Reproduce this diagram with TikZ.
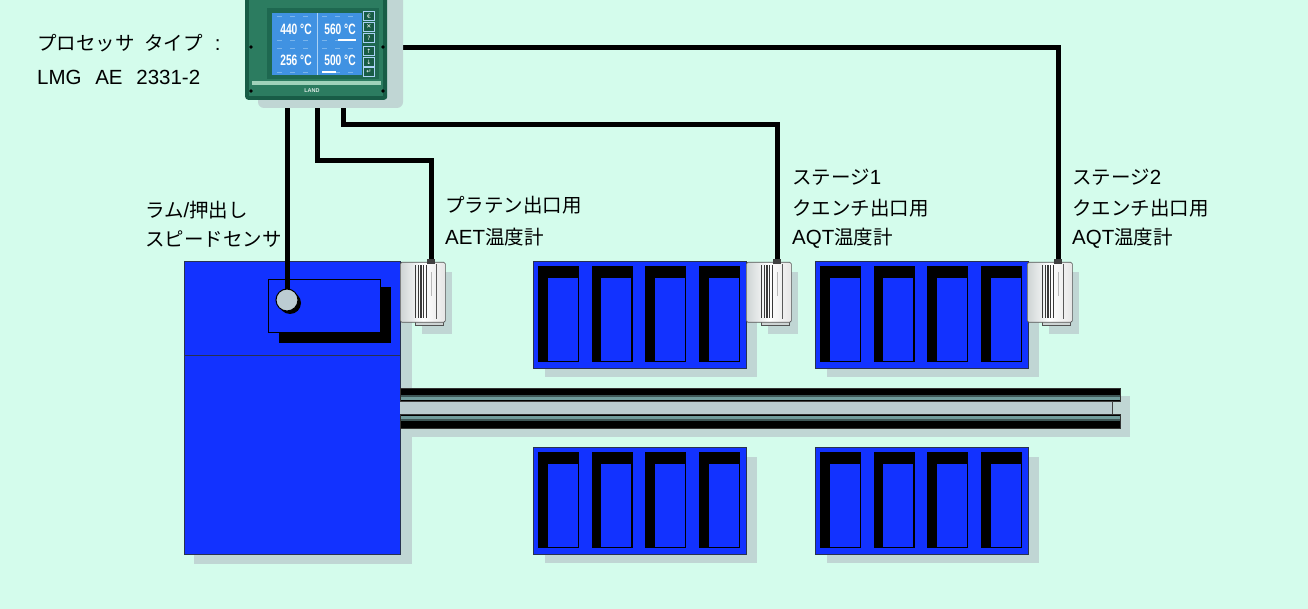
\documentclass[tikz,border=0pt]{standalone}
\usepackage{fontspec}
\setmainfont{Noto Sans CJK JP}
\newfontfamily\labfont{Liberation Sans}
\newfontfamily\symfont{DejaVu Sans}
\usetikzlibrary{calc}

\definecolor{bgmint}{RGB}{212,252,236}
\definecolor{pressblue}{RGB}{18,50,255}
\definecolor{shadowgrey}{RGB}{192,214,212}
\definecolor{edgedark}{RGB}{40,50,80}
\definecolor{ctrldark}{RGB}{24,92,70}
\definecolor{ctrlmid}{RGB}{44,124,96}
\definecolor{ctrlbezel}{RGB}{30,104,80}
\definecolor{screenblue}{RGB}{64,146,226}
\definecolor{screenline}{RGB}{170,210,245}
\definecolor{stripegreen}{RGB}{160,210,186}
\definecolor{railteal}{RGB}{112,156,156}
\definecolor{railgrey}{RGB}{186,204,208}
\definecolor{knobgrey}{RGB}{188,204,210}
\definecolor{sensorgrey}{RGB}{206,212,212}

% Latin runs inside the Japanese labels
\newcommand\lat[1]{{\labfont\fontsize{20.5}{22}\selectfont #1}}

\tikzset{
  cable/.style={line width=5pt, black, line join=miter},
  pressbox/.style={fill=pressblue, draw=edgedark, line width=0.8pt, inner sep=0pt, anchor=north west},
  lbl/.style={anchor=west, inner sep=0pt, text=black, font=\fontsize{19.5}{22}\selectfont},
  readout/.style={inner sep=0pt, text=white, font=\labfont\bfseries\fontsize{15}{15}\selectfont},
  keycap/.style={fill=ctrldark, draw=screenline, line width=0.4pt, minimum width=11pt, minimum height=9pt, inner sep=0pt, text=white, font=\symfont\fontsize{6}{6}\selectfont},
  sensorbody/.style={draw=gray!65!black, line width=0.6pt, rounded corners=1.5pt, left color=sensorgrey, right color=gray!20, middle color=white, minimum width=45pt, minimum height=60pt, inner sep=0pt, anchor=north west},
}

% quench table: name, left x, top y
\newcommand\quenchbox[3]{%
  \fill[shadowgrey] (#2+12,#3+10) rectangle (#2+224,#3+116);
  \node[pressbox, minimum width=213pt, minimum height=107pt] (#1) at (#2,#3) {};
  \foreach \k in {0,...,3}{%
    \fill[black] (#2+5+53.6*\k,#3+5) rectangle ++(41,96);
    \draw[fill=pressblue, draw=black, line width=0.6pt] (#2+14+53.6*\k,#3+16) rectangle ++(31,84);
  }%
}

% pyrometer head: name, left x, top y
\newcommand\tempsensor[3]{%
  \fill[shadowgrey] (#2+22,#3+10) rectangle (#2+52,#3+72);
  \draw[fill=sensorgrey, draw=gray!65!black, line width=0.6pt] (#2+15,#3+54) rectangle (#2+43,#3+63);
  \node[sensorbody] (#1) at (#2,#3) {};
  \foreach \s in {0,...,4}{\fill[gray!45!black] (#2+15+2.7*\s,#3+3) rectangle ++(1.3,53);}
  \draw[gray!55, line width=0.8pt] (#2+31,#3+10) -- (#2+31,#3+34);
  \draw[gray!70!black, line width=0.5pt] (#2+36,#3+2) -- (#2+36,#3+57);
}

\begin{document}
\begin{tikzpicture}[x=1pt,y=-1pt]
\useasboundingbox (0,0) rectangle (1308,609);
\clip (0,0) rectangle (1308,609);
\fill[bgmint] (0,0) rectangle (1308,609);

% ---- extrusion press ----
\fill[shadowgrey] (194,271) rectangle (412,564);
\node[pressbox, minimum width=216pt, minimum height=293pt] (press) at (184,261) {};
\draw[edgedark, line width=0.8pt] (184,355) -- (400,355);
\fill[black] (279,287) rectangle (391,343);
\draw[fill=pressblue, draw=black, line width=1pt] (268,280) rectangle (380,332);

% ---- run-out rail ----
\fill[shadowgrey] (408,396) rectangle (1130,437);
\fill[black] (400,388) rectangle (1120,401);
\fill[railteal!55!black] (400,394.5) rectangle (1120,396.5);
\fill[railteal] (400,396.5) rectangle (1120,399.5);
\draw[black!80, line width=0.5pt] (400,388) rectangle (1120,401);
\fill[railgrey] (400,401) rectangle (1112,414);
\draw[black!75, line width=0.5pt] (400,401) -- (1112,401) -- (1112,414) -- (400,414);
\fill[black] (400,414) rectangle (1120,428);
\fill[railteal] (400,415.5) rectangle (1120,418.5);
\fill[railteal!55!black] (400,418.5) rectangle (1120,420.5);
\draw[black!80, line width=0.5pt] (400,414) rectangle (1120,428);

% ---- quench tables ----
\quenchbox{qupA}{533}{261}
\quenchbox{qupB}{815}{261}
\quenchbox{qloA}{533}{447}
\quenchbox{qloB}{815}{447}

% ---- pyrometers ----
\tempsensor{platen}{400}{262}
\tempsensor{stageone}{746}{262}
\tempsensor{stagetwo}{1027}{262}

% ---- cable ports and bends ----
\coordinate (ctrlA) at (287,90);
\coordinate (ctrlB) at (317,90);
\coordinate (ctrlC) at (343,90);
\coordinate (ctrlD) at (390,48);
\coordinate (bendB) at (431,161);
\coordinate (bendC) at (777,125);
\coordinate (platenIn) at (431,262);
\coordinate (stageoneIn) at (777,262);
\coordinate (stagetwoIn) at (1058,262);

\fill[black] (290,303) circle (11);
\draw[cable] (ctrlA) -- (287,300);
\node[circle, draw=black, line width=1pt, fill=knobgrey, minimum size=22pt, inner sep=0pt] (knob) at (287,300) {};
\draw[cable] (ctrlB) |- (bendB) -- (platenIn);
\draw[cable] (ctrlC) |- (bendC) -- (stageoneIn);
\draw[cable] (ctrlD) -| (stagetwoIn);
\foreach \p in {platenIn, stageoneIn, stagetwoIn}{\fill[black!75] ($(\p)+(-4,-3)$) rectangle ($(\p)+(4,2)$);}

% ---- controller unit ----
\fill[shadowgrey, rounded corners=6pt] (258,-10) rectangle (403,108);
\node[fill=ctrldark, rounded corners=3pt, minimum width=142pt, minimum height=110pt, inner sep=0pt, anchor=south west] (ctrl) at (245,100) {};
\fill[ctrlmid] (249,-5) rectangle (383,96);
\fill[ctrlbezel] (267,8) rectangle (379,79);
\fill[screenblue] (272,13) rectangle (362,75);
\draw[screenline, line width=0.6pt] (317,13) -- (317,75);
\foreach \yy in {16,40,48,72}{%
  \foreach \xx in {277,290,303,322,335,348}{\draw[screenline!55!screenblue, line width=0.5pt] (\xx,\yy) -- ++(5,0);}}
\fill[white] (338,39) rectangle (356,41.5);
\fill[white] (322,71) rectangle (336,73.5);
\node[readout] (tA) at (296,29) {\scalebox{0.68}[1]{440 °C}};
\node[readout] (tB) at (340,29) {\scalebox{0.68}[1]{560 °C}};
\node[readout] (tC) at (296,60) {\scalebox{0.68}[1]{256 °C}};
\node[readout] (tD) at (340,60) {\scalebox{0.68}[1]{500 °C}};
\node[keycap] (k1) at (369,16) {€};
\node[keycap] (k2) at (369,27) {✕};
\node[keycap] (k3) at (369,38) {?};
\node[keycap] (k4) at (369,51) {↑};
\node[keycap] (k5) at (369,62) {↓};
\node[keycap] (k6) at (369,72) {↵};
\fill[stripegreen] (252,81) rectangle (381,85);
\node[inner sep=0pt, text=white!85!ctrlmid, font=\labfont\bfseries\fontsize{5.5}{6}\selectfont] (brand) at (312,91) {LAND};
\foreach \sx/\sy in {251/47,251/91,383/47,383/91}{\fill[black] (\sx,\sy) circle (1.8);}

% ---- labels ----
\node[lbl] (proctype) at (37,43) {プロセッサ\hspace{5pt} タイプ\hspace{8pt} \lat{:}};
\node[lbl] (procmodel) at (37,77) {\lat{LMG\hspace{8pt} AE\hspace{8pt} 2331-2}};
\node[lbl] (ramA) at (145,210) {ラム\lat{/}押出し};
\node[lbl] (ramB) at (145,239) {スピードセンサ};
\node[lbl] (platA) at (445,205) {プラテン出口用};
\node[lbl] (platB) at (445,237) {\lat{AET}温度計};
\node[lbl] (s1a) at (792,177) {ステージ\lat{1}};
\node[lbl] (s1b) at (792,208) {クエンチ出口用};
\node[lbl] (s1c) at (792,238) {\lat{AQT}温度計};
\node[lbl] (s2a) at (1072,177) {ステージ\lat{2}};
\node[lbl] (s2b) at (1072,208) {クエンチ出口用};
\node[lbl] (s2c) at (1072,238) {\lat{AQT}温度計};
\end{tikzpicture}
\end{document}
